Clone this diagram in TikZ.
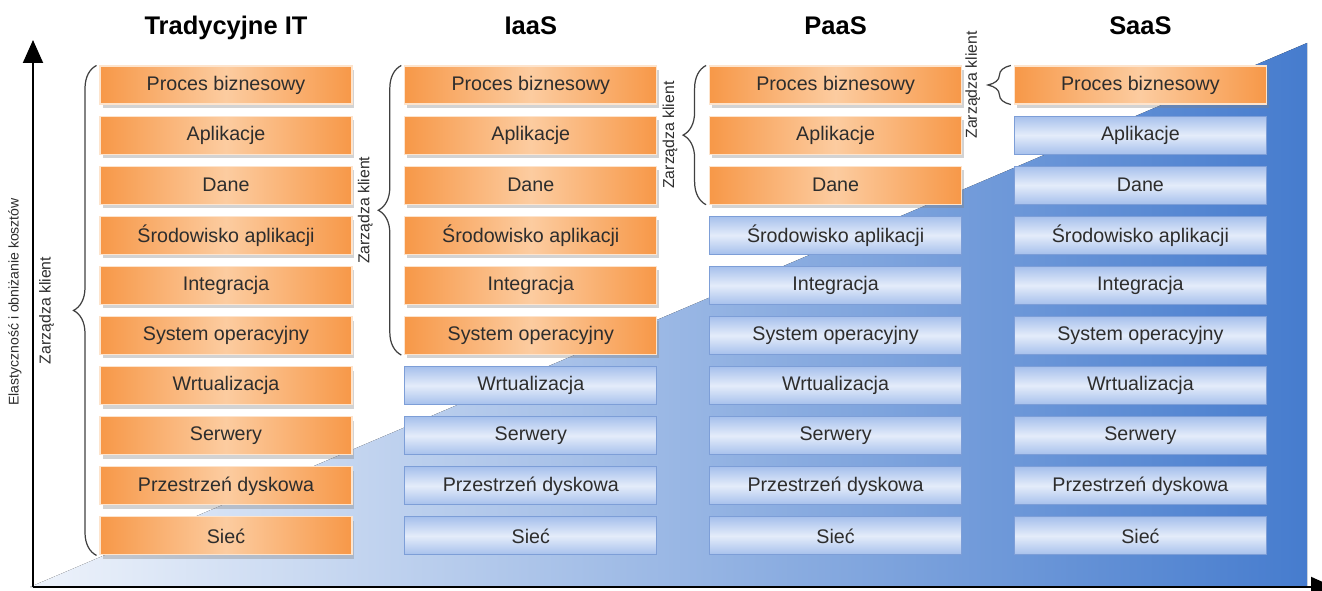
\documentclass[tikz,border=0pt]{standalone}
\usepackage{fontspec}
\setmainfont{Liberation Sans}
\usetikzlibrary{calc,shadows,decorations.pathreplacing,arrows.meta}

\definecolor{pomL}{RGB}{252,204,160}
\definecolor{pomD}{RGB}{247,152,72}
\definecolor{pomB}{RGB}{253,228,205}
\definecolor{nieL}{RGB}{228,236,250}
\definecolor{nieD}{RGB}{166,192,236}
\definecolor{nieB}{RGB}{125,158,215}
\definecolor{klinL}{RGB}{238,243,251}
\definecolor{klinP}{RGB}{70,124,206}
\definecolor{tekst}{RGB}{45,45,45}

\tikzset{
  warstwa/.style={minimum width=5.04cm, minimum height=0.76cm, inner sep=0pt,
    text=tekst, font=\fontsize{11.2}{13}\selectfont},
  klient/.style={warstwa, draw=pomB, line width=0.6pt,
    left color=pomD, right color=pomD, middle color=pomL,
    drop shadow={shadow xshift=0.05cm, shadow yshift=-0.08cm, opacity=0.35}},
  dostawca/.style={warstwa, draw=nieB, line width=0.5pt,
    top color=nieD, bottom color=nieD, middle color=nieL},
  tytul/.style={font=\bfseries\fontsize{14.5}{17}\selectfont, anchor=base},
  klamra/.style={decorate, decoration={brace, amplitude=0.46cm}, draw=black!75, line width=0.7pt},
  opis/.style={rotate=90, text=tekst, font=\fontsize{9}{11}\selectfont},
  os/.style={line width=1.1pt, -{Triangle[width=0.4cm, length=0.46cm]}},
}

\begin{document}
\begin{tikzpicture}[x=0.02cm, y=-0.02cm]
\useasboundingbox (0,0) rectangle (1322,591);
\clip (0,0) rectangle (1322,591);

% klin w tle
\fill[left color=klinL, right color=klinP] (30,587) -- (1307,43) -- (1307,587) -- cycle;

% osie
\coordinate (o) at (33,587);
\coordinate (ox) at (1334,587);
\coordinate (oy) at (33,40);
\draw[os] (o) -- (oy);
\draw[os] (o) -- (ox);
\node[opis, font=\fontsize{8}{10}\selectfont] (elast) at (15,302) {Elastyczność i obniżanie kosztów};

% kolumny warstw
\foreach \c/\k/\n/\tyt in {0/t/10/Tradycyjne IT, 1/i/6/IaaS, 2/p/3/PaaS, 3/s/1/SaaS} {
  \foreach \lab [count=\r] in {Proces biznesowy, Aplikacje, Dane, Środowisko aplikacji, Integracja,
      System operacyjny, Wrtualizacja, Serwery, Przestrzeń dyskowa, Sieć} {
    \ifnum\r>\n \def\rodzaj{dostawca}\else \def\rodzaj{klient}\fi
    \node[\rodzaj] (\k\r) at (226+\c*304.8, 85+\r*50.1-50.1) {\lab};
  }
  \node[tytul] (\k0) at (226+\c*304.8, 35) {\tyt};
}

% klamry
\draw[klamra] ([xshift=-0.06cm]t10.south west) -- ([xshift=-0.06cm]t1.north west);
\draw[klamra] ([xshift=-0.06cm]i6.south west) -- ([xshift=-0.06cm]i1.north west);
\draw[klamra] ([xshift=-0.06cm]p3.south west) -- ([xshift=-0.06cm]p1.north west);
\draw[klamra] ([xshift=-0.06cm]s1.south west) -- ([xshift=-0.06cm]s1.north west);
\node[opis] (zk1) at ($(t1.north west)!.5!(t10.south west)+(-53,0)$) {Zarządza klient};
\node[opis] (zk2) at ($(i1.north west)!.5!(i6.south west)+(-39,0)$) {Zarządza klient};
\node[opis] (zk3) at ($(p1.north west)!.5!(p3.south west)+(-39,0)$) {Zarządza klient};
\node[opis] (zk4) at ($(s1.north west)!.5!(s1.south west)+(-41,0)$) {Zarządza klient};

\end{tikzpicture}
\end{document}
